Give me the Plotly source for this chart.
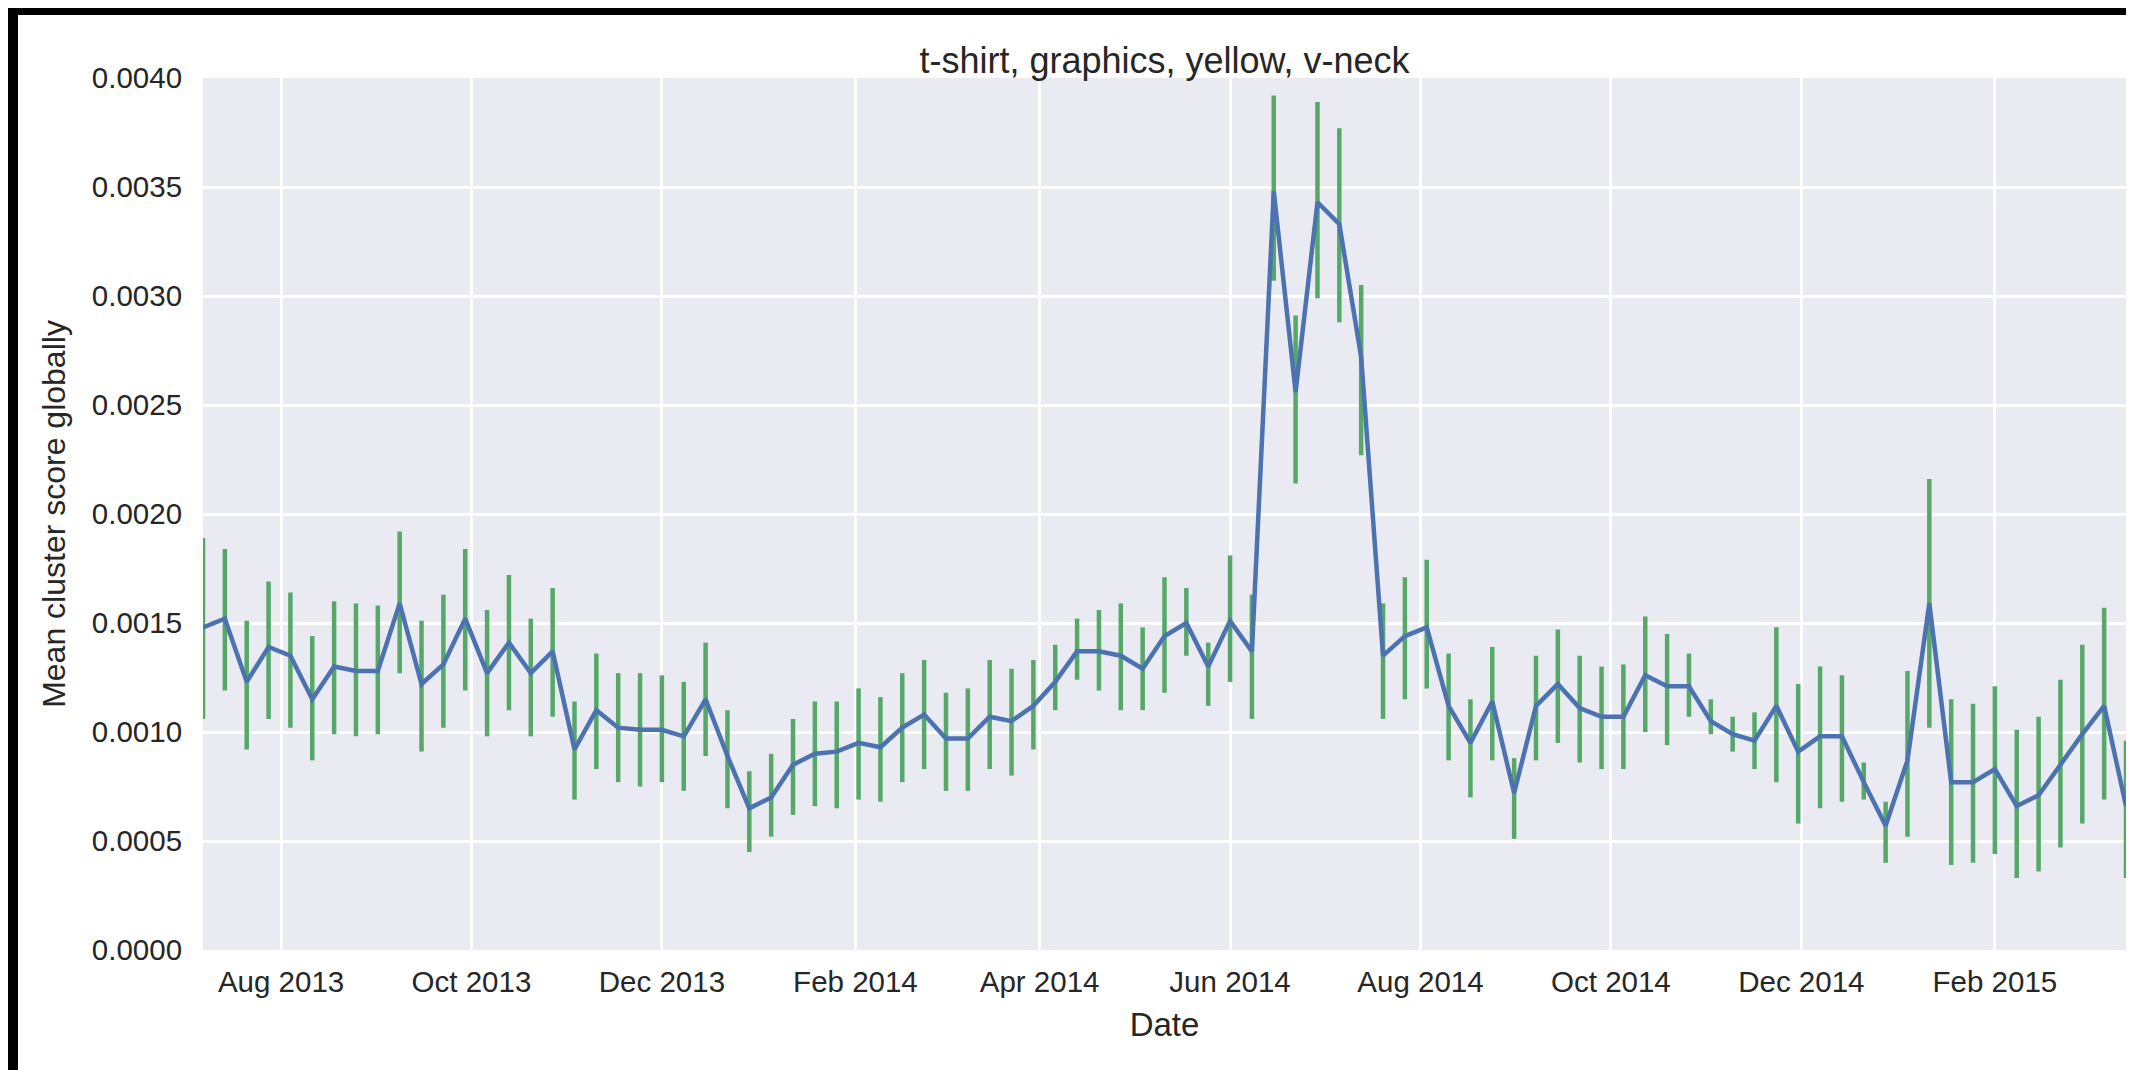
import pandas as pd
import plotly.graph_objects as go

# weekly dates
start_date = "2013-07-07"
n_weeks = 89
dates = pd.date_range(start_date, periods=n_weeks, freq="7D")

mean_score = [
    0.00148, 0.00152, 0.00123, 0.00139, 0.00135, 0.00115, 0.00130, 0.00128, 0.00128, 0.00159,
    0.00122, 0.00131, 0.00152, 0.00127, 0.00141, 0.00127, 0.00137, 0.00092, 0.00110, 0.00102,
    0.00101, 0.00101, 0.00098, 0.00115, 0.00089, 0.00065, 0.00070, 0.00085, 0.00090, 0.00091,
    0.00095, 0.00093, 0.00102, 0.00108, 0.00097, 0.00097, 0.00107, 0.00105, 0.00112, 0.00123,
    0.00137, 0.00137, 0.00135, 0.00129, 0.00144, 0.00150, 0.00130, 0.00151, 0.00137, 0.00348,
    0.00256, 0.00343, 0.00333, 0.00272, 0.00135, 0.00144, 0.00148, 0.00112, 0.00095, 0.00114,
    0.00072, 0.00112, 0.00122, 0.00111, 0.00107, 0.00107, 0.00126, 0.00121, 0.00121, 0.00105,
    0.00099, 0.00096, 0.00112, 0.00091, 0.00098, 0.00098, 0.00077, 0.00057, 0.00087, 0.00159,
    0.00077, 0.00077, 0.00083, 0.00066, 0.00071, 0.00085, 0.00099, 0.00112, 0.00066,
]

lower_bound = [
    0.00106, 0.00119, 0.00092, 0.00106, 0.00102, 0.00087, 0.00099, 0.00098, 0.00099, 0.00127,
    0.00091, 0.00102, 0.00119, 0.00098, 0.00110, 0.00098, 0.00107, 0.00069, 0.00083, 0.00077,
    0.00075, 0.00077, 0.00073, 0.00089, 0.00065, 0.00045, 0.00052, 0.00062, 0.00066, 0.00065,
    0.00069, 0.00068, 0.00077, 0.00083, 0.00073, 0.00073, 0.00083, 0.00080, 0.00092, 0.00110,
    0.00124, 0.00119, 0.00110, 0.00110, 0.00118, 0.00135, 0.00112, 0.00123, 0.00106, 0.00307,
    0.00214, 0.00299, 0.00288, 0.00227, 0.00106, 0.00115, 0.00120, 0.00087, 0.00070, 0.00087,
    0.00051, 0.00087, 0.00095, 0.00086, 0.00083, 0.00083, 0.00100, 0.00094, 0.00107, 0.00099,
    0.00091, 0.00083, 0.00077, 0.00058, 0.00065, 0.00068, 0.00069, 0.00040, 0.00052, 0.00102,
    0.00039, 0.00040, 0.00044, 0.00033, 0.00036, 0.00047, 0.00058, 0.00069, 0.00033,
]

upper_bound = [
    0.00189, 0.00184, 0.00151, 0.00169, 0.00164, 0.00144, 0.00160, 0.00159, 0.00158, 0.00192,
    0.00151, 0.00163, 0.00184, 0.00156, 0.00172, 0.00152, 0.00166, 0.00114, 0.00136, 0.00127,
    0.00127, 0.00126, 0.00123, 0.00141, 0.00110, 0.00082, 0.00090, 0.00106, 0.00114, 0.00114,
    0.00120, 0.00116, 0.00127, 0.00133, 0.00118, 0.00120, 0.00133, 0.00129, 0.00133, 0.00140,
    0.00152, 0.00156, 0.00159, 0.00148, 0.00171, 0.00166, 0.00141, 0.00181, 0.00163, 0.00392,
    0.00291, 0.00389, 0.00377, 0.00305, 0.00159, 0.00171, 0.00179, 0.00136, 0.00115, 0.00139,
    0.00088, 0.00135, 0.00147, 0.00135, 0.00130, 0.00131, 0.00153, 0.00145, 0.00136, 0.00115,
    0.00107, 0.00109, 0.00148, 0.00122, 0.00130, 0.00126, 0.00086, 0.00068, 0.00128, 0.00216,
    0.00115, 0.00113, 0.00121, 0.00101, 0.00107, 0.00124, 0.00140, 0.00157, 0.00096,
]

y_ticks = [0.0, 0.0005, 0.0010, 0.0015, 0.0020, 0.0025, 0.0030, 0.0035, 0.0040]

title_text = "t-shirt, graphics, yellow, v-neck"
x_title = "Date"
y_title = "Mean cluster score globally"

err_plus = [h - m for h, m in zip(upper_bound, mean_score)]
err_minus = [m - l for m, l in zip(mean_score, lower_bound)]

FONT = "Liberation Sans, Arial, sans-serif"
TXT = "#262626"

fig = go.Figure()
fig.add_trace(go.Scatter(
    x=dates, y=mean_score, mode="lines",
    line=dict(width=0, color="rgba(0,0,0,0)"),
    error_y=dict(type="data", symmetric=False, array=err_plus, arrayminus=err_minus,
                 color="#55A868", thickness=4.5, width=0),
    showlegend=False, hoverinfo="skip",
))
fig.add_trace(go.Scatter(
    x=dates, y=mean_score, mode="lines",
    line=dict(width=4.5, color="#4C72B0"),
    showlegend=False,
))

W, H = 2134, 1070
L, R, T, B = 195, 16, 70, 128

fig.update_layout(
    width=W, height=H,
    margin=dict(l=L, r=R, t=T, b=B),
    paper_bgcolor="white",
    plot_bgcolor="#EAEAF2",
    font=dict(family=FONT, color=TXT, size=29.5),
    title=dict(text=title_text, x=0.5, xref="paper", xanchor="center",
               y=1 - 52 / H, yref="container", yanchor="middle",
               font=dict(size=36, color=TXT, family=FONT)),
    showlegend=False,
)

fig.update_xaxes(
    range=[dates[0], dates[-1]],
    tick0="2013-08-01", dtick="M2", tickformat="%b %Y",
    showgrid=True, gridcolor="white", gridwidth=2.5,
    zeroline=False, showline=False,
    ticks="outside", ticklen=6, tickcolor="rgba(0,0,0,0)",
    tickfont=dict(size=29.5, color=TXT, family=FONT),
    title=dict(text=x_title, font=dict(size=33, color=TXT, family=FONT), standoff=15),
)
fig.update_yaxes(
    range=[0, 0.004],
    tickvals=y_ticks, tickformat=".4f",
    showgrid=True, gridcolor="white", gridwidth=2.5,
    zeroline=False, showline=False,
    ticks="outside", ticklen=14, tickcolor="rgba(0,0,0,0)",
    tickfont=dict(size=29.5, color=TXT, family=FONT),
    title=dict(text=y_title, font=dict(size=32, color=TXT, family=FONT), standoff=16),
)

# black screenshot border
pw = W - L - R
ph = H - T - B
def px_to_paper_x(px):
    return (px - L) / pw
def px_to_paper_y(py):
    return (H - B - py) / ph

borders = [
    (0, 0, W, 7),
    (0, 0, 10, H),
    (0, 1063, W, H),
]
for x0, y0, x1, y1 in borders:
    fig.add_shape(type="rect", xref="paper", yref="paper",
                  x0=px_to_paper_x(x0), x1=px_to_paper_x(x1),
                  y0=px_to_paper_y(y1), y1=px_to_paper_y(y0),
                  fillcolor="black", line=dict(width=0), layer="above")

fig.write_html("out.html")
